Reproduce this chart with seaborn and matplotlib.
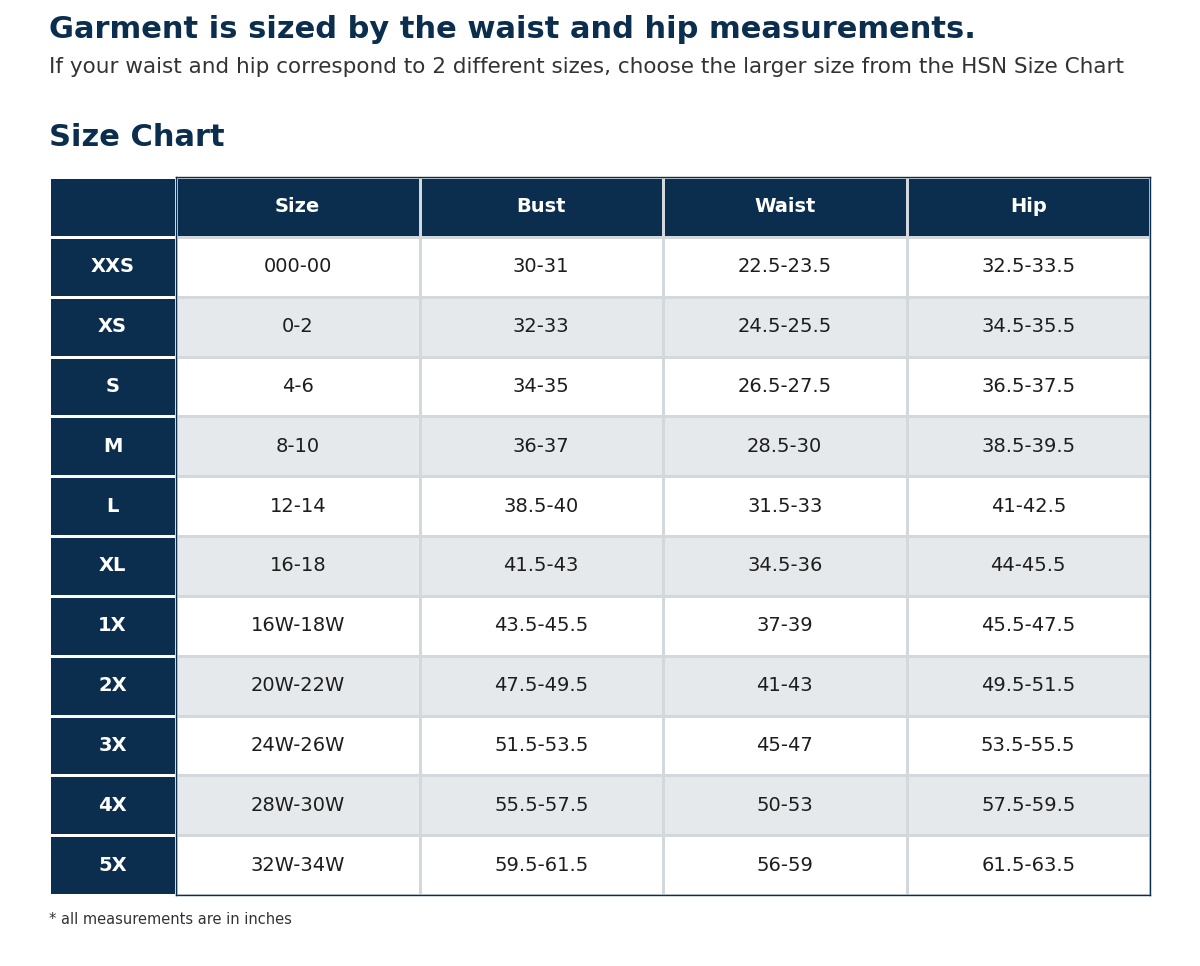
import numpy as np
import matplotlib.pyplot as plt
import seaborn as sns
from matplotlib.colors import ListedColormap

# --- DADOS DA TABELA ---
tamanhos = ['XXS', 'XS', 'S', 'M', 'L', 'XL', '1X', '2X', '3X', '4X', '5X']
colunas = ['Size', 'Bust', 'Waist', 'Hip']
numeracao = ['000-00', '0-2', '4-6', '8-10', '12-14', '16-18', '16W-18W', '20W-22W', '24W-26W', '28W-30W', '32W-34W']
busto = ['30-31', '32-33', '34-35', '36-37', '38.5-40', '41.5-43', '43.5-45.5', '47.5-49.5', '51.5-53.5', '55.5-57.5', '59.5-61.5']
cintura = ['22.5-23.5', '24.5-25.5', '26.5-27.5', '28.5-30', '31.5-33', '34.5-36', '37-39', '41-43', '45-47', '50-53', '56-59']
quadril = ['32.5-33.5', '34.5-35.5', '36.5-37.5', '38.5-39.5', '41-42.5', '44-45.5', '45.5-47.5', '49.5-51.5', '53.5-55.5', '57.5-59.5', '61.5-63.5']

azul = '#0b2e4f'
cinza = '#e5e9ec'

# Matriz de cores: 0 = branco, 1 = cinza (listrado), 2 = azul (cabeçalho)
n = len(tamanhos)
cores = np.zeros((n + 1, len(colunas)))
cores[0, :] = 2
for i in range(n):
    cores[i + 1, :] = i % 2  # alterna branco e cinza

textos = np.array([colunas] + [list(r) for r in zip(numeracao, busto, cintura, quadril)])
rotulos = np.array([[''] ] + [[t] for t in tamanhos])

fig = plt.figure(figsize=(12, 9.66), dpi=100)
cmap = ListedColormap(['white', cinza, azul])

# Coluna da esquerda (tamanhos)
ax_esq = fig.add_axes([49 / 1200, 1 - 895 / 966, 127 / 1200, 718 / 966])
sns.heatmap(np.full((n + 1, 1), 2), cmap=cmap, vmin=0, vmax=2, cbar=False,
            annot=rotulos, fmt='', linewidths=1, linecolor='white',
            annot_kws={'fontsize': 14, 'fontweight': 'bold', 'color': 'white'}, ax=ax_esq)
ax_esq.set_xticks([])
ax_esq.set_yticks([])

# Tabela principal
ax = fig.add_axes([176 / 1200, 1 - 895 / 966, 974 / 1200, 718 / 966])
sns.heatmap(cores, cmap=cmap, vmin=0, vmax=2, cbar=False,
            annot=textos, fmt='', linewidths=1, linecolor='#d3d8dc',
            annot_kws={'fontsize': 14, 'color': '#1d1d1d'}, ax=ax)
for t in ax.texts[:len(colunas)]:
    t.set_color('white')  # cabeçalho em branco
    t.set_fontweight('bold')
ax.set_xticks([])
ax.set_yticks([])
for s in ax.spines.values():
    s.set_visible(True)
    s.set_color(azul)
    s.set_linewidth(1)

# Títulos e notas
fig.text(49 / 1200, 1 - 30 / 966, 'Garment is sized by the waist and hip measurements.',
         fontsize=22, fontweight='bold', color=azul, va='center')
fig.text(49 / 1200, 1 - 67 / 966,
         'If your waist and hip correspond to 2 different sizes, choose the larger size from the HSN Size Chart',
         fontsize=15.5, color='#333333', va='center')
fig.text(49 / 1200, 1 - 138 / 966, 'Size Chart', fontsize=22, fontweight='bold', color=azul, va='center')
fig.text(49 / 1200, 1 - 920 / 966, '* all measurements are in inches', fontsize=10.5, color='#333333', va='center')

plt.savefig('out.png', dpi=100)
